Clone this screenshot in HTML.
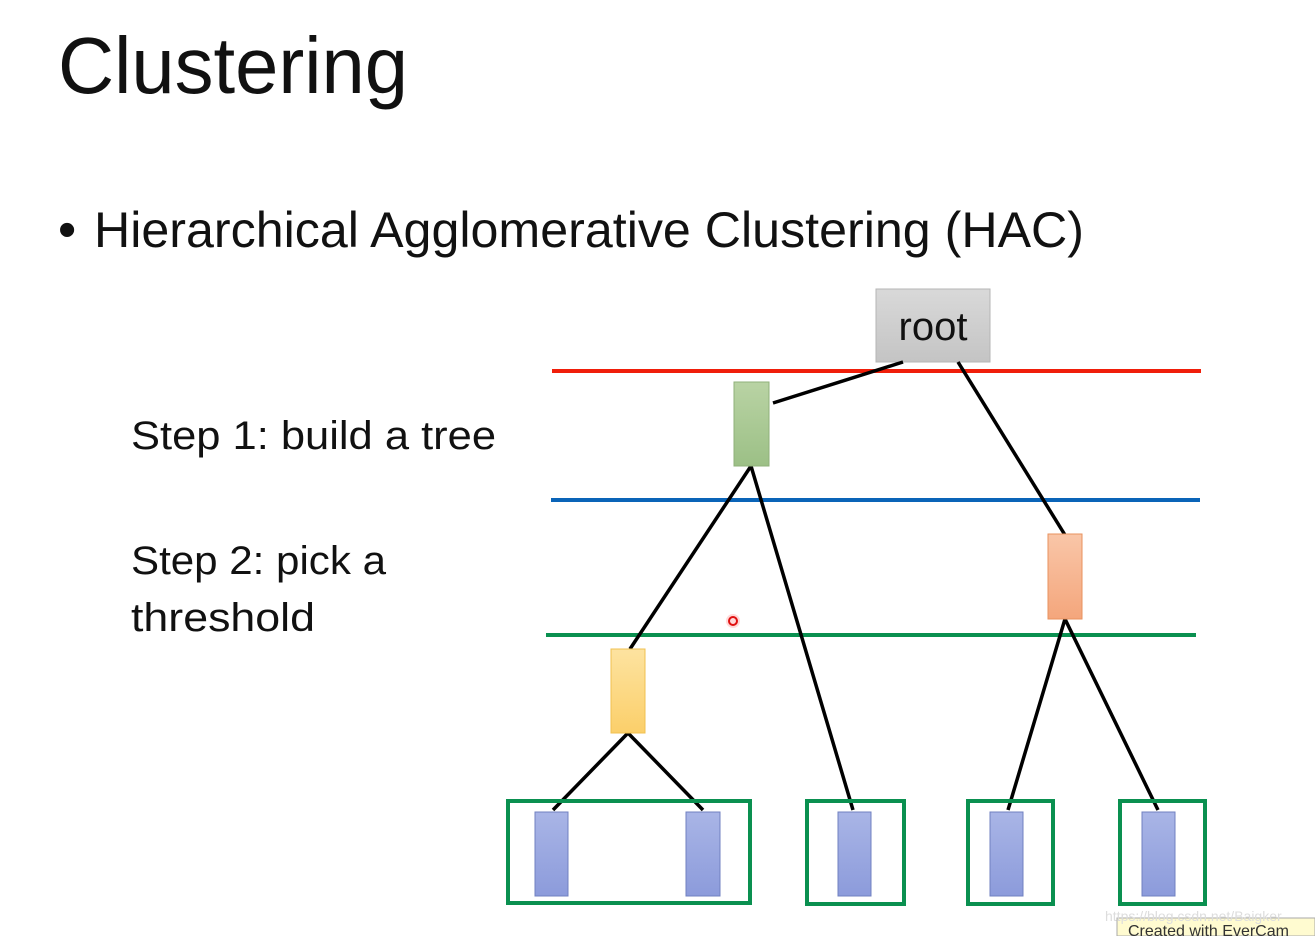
<!DOCTYPE html>
<html><head><meta charset="utf-8"><style>html,body{margin:0;padding:0;background:#fff}svg{display:block}</style></head>
<body>
<svg width="1315" height="936" viewBox="0 0 1315 936" xmlns="http://www.w3.org/2000/svg" font-family="Liberation Sans, sans-serif">
<defs>
<linearGradient id="gr" x1="0" y1="0" x2="0" y2="1"><stop offset="0" stop-color="#d9d9d9"/><stop offset="1" stop-color="#c4c4c4"/></linearGradient>
<linearGradient id="gg" x1="0" y1="0" x2="0" y2="1"><stop offset="0" stop-color="#b9d3a4"/><stop offset="1" stop-color="#9cc086"/></linearGradient>
<linearGradient id="go" x1="0" y1="0" x2="0" y2="1"><stop offset="0" stop-color="#f9c6a8"/><stop offset="1" stop-color="#f4a67c"/></linearGradient>
<linearGradient id="gy" x1="0" y1="0" x2="0" y2="1"><stop offset="0" stop-color="#fde3a0"/><stop offset="1" stop-color="#fbcf6a"/></linearGradient>
<linearGradient id="gb" x1="0" y1="0" x2="0" y2="1"><stop offset="0" stop-color="#a9b5e6"/><stop offset="1" stop-color="#8c9bdb"/></linearGradient>
</defs>
<text x="58" y="93" font-size="80" textLength="350" lengthAdjust="spacingAndGlyphs" fill="#111">Clustering</text>
<text x="58" y="247" font-size="52" fill="#111">•</text>
<text x="94" y="247" font-size="50" textLength="990" lengthAdjust="spacingAndGlyphs" fill="#111">Hierarchical Agglomerative Clustering (HAC)</text>
<text x="131" y="449" font-size="40" textLength="365" lengthAdjust="spacingAndGlyphs" fill="#111">Step 1: build a tree</text>
<text x="131" y="574" font-size="40" textLength="255" lengthAdjust="spacingAndGlyphs" fill="#111">Step 2: pick a</text>
<text x="131" y="631" font-size="40" textLength="184" lengthAdjust="spacingAndGlyphs" fill="#111">threshold</text>

<rect x="876" y="289" width="114" height="73" fill="url(#gr)" stroke="#b5b5b5"/>
<text x="933" y="340" font-size="40" text-anchor="middle" fill="#111">root</text>

<line x1="552" y1="371" x2="1201" y2="371" stroke="#f01e0a" stroke-width="4"/>
<line x1="551" y1="500" x2="1200" y2="500" stroke="#0a64b8" stroke-width="4"/>
<line x1="546" y1="635" x2="1196" y2="635" stroke="#0a9050" stroke-width="4"/>

<g stroke="#000" stroke-width="3.5" fill="none">
<line x1="773" y1="403" x2="903" y2="362"/>
<line x1="958" y1="362" x2="1065" y2="535"/>
<line x1="751" y1="466" x2="630" y2="649"/>
<line x1="751" y1="466" x2="853" y2="810"/>
<line x1="1065" y1="619" x2="1008" y2="810"/>
<line x1="1065" y1="619" x2="1158" y2="810"/>
<line x1="628" y1="733" x2="553" y2="810"/>
<line x1="628" y1="733" x2="703" y2="810"/>
</g>

<rect x="734" y="382" width="35" height="84" fill="url(#gg)" stroke="#8fb07a"/>
<rect x="1048" y="534" width="34" height="85" fill="url(#go)" stroke="#e8925e"/>
<rect x="611" y="649" width="34" height="84" fill="url(#gy)" stroke="#f0c050"/>

<g fill="url(#gb)" stroke="#7080c0">
<rect x="535" y="812" width="33" height="84"/>
<rect x="686" y="812" width="34" height="84"/>
<rect x="838" y="812" width="33" height="84"/>
<rect x="990" y="812" width="33" height="84"/>
<rect x="1142" y="812" width="33" height="84"/>
</g>
<g fill="none" stroke="#0a9050" stroke-width="4">
<rect x="508" y="801" width="242" height="102"/>
<rect x="807" y="801" width="97" height="103"/>
<rect x="968" y="801" width="85" height="103"/>
<rect x="1120" y="801" width="85" height="103"/>
</g>
<circle cx="733" cy="621" r="7" fill="#ffd0d0" opacity="0.8"/>
<circle cx="733" cy="621" r="4" fill="none" stroke="#e01010" stroke-width="2"/>
<rect x="1117" y="918" width="198" height="18" fill="#fffbd0" stroke="#aaa"/>
<text x="1128" y="936" font-size="16" fill="#333">Created with EverCam</text>
<text x="1105" y="921" font-size="14" fill="#ddd">https://blog.csdn.net/Baigker</text>
</svg>
</body></html>
